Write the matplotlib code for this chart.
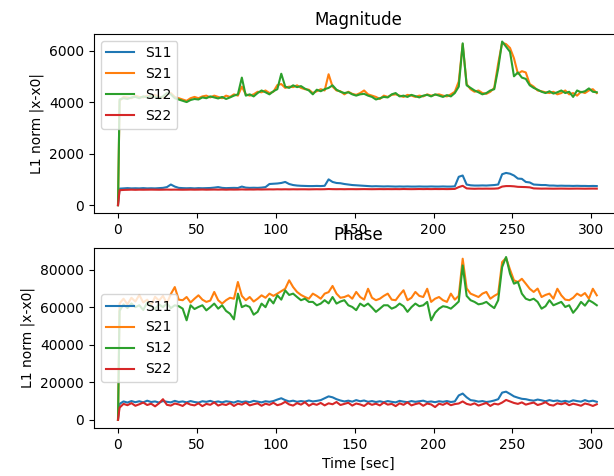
import matplotlib
matplotlib.use("Agg")
import matplotlib.pyplot as plt
import numpy as np

# sample times [sec]: first sample at 0, then every 2.5 s
time = np.r_[0.0, np.arange(1.0, 305.0, 2.5)]

labels = ["S11", "S21", "S12", "S22"]

# ---- Magnitude: L1 norm |x-x0| ----
mag_s11 = [0, 640, 650, 660, 650, 655, 650, 660, 650, 655,
           650, 660, 670, 700, 800, 720, 670, 660, 655, 660,
           650, 660, 655, 660, 665, 680, 700, 670, 660, 665,
           670, 665, 720, 680, 670, 675, 670, 680, 700, 820,
           830, 840, 860, 900, 820, 780, 760, 750, 745, 740,
           740, 745, 740, 750, 1000, 900, 860, 850, 820, 800,
           780, 770, 760, 750, 740, 730, 735, 730, 725, 730,
           725, 720, 725, 720, 725, 720, 720, 725, 720, 720,
           725, 720, 720, 725, 720, 720, 730, 1100, 1150, 800,
           770, 760, 760, 765, 760, 770, 780, 800, 1200, 1250,
           1220, 1150, 1030, 1020, 900, 880, 800, 790, 780, 780,
           760, 760, 750, 755, 750, 750, 745, 750, 745, 745,
           740, 745, 740]
mag_s21 = [0, 4050, 4200, 4180, 4150, 4250, 4200, 4180, 4250, 4200,
           4280, 4200, 4180, 4300, 4350, 4200, 4150, 4100, 4050, 4150,
           4200, 4150, 4220, 4250, 4180, 4250, 4200, 4150, 4250, 4200,
           4300, 4250, 4600, 4300, 4250, 4300, 4400, 4380, 4450, 4350,
           4400, 4660, 4700, 4550, 4600, 4580, 4650, 4550, 4500, 4480,
           4350, 4420, 4500, 4450, 5080, 4600, 4450, 4420, 4300, 4400,
           4320, 4280, 4350, 4450, 4300, 4250, 4200, 4120, 4250, 4200,
           4280, 4300, 4250, 4200, 4280, 4250, 4200, 4250, 4220, 4300,
           4250, 4280, 4300, 4250, 4220, 4300, 4400, 4800, 6250, 4700,
           4500, 4400, 4450, 4350, 4320, 4400, 4550, 5500, 6300, 6250,
           6100, 5700, 5100, 5200, 5150, 4700, 4600, 4450, 4420, 4380,
           4350, 4400, 4300, 4350, 4450, 4300, 4350, 4250, 4400, 4350,
           4450, 4500, 4350]
mag_s12 = [0, 4100, 4150, 4120, 4180, 4200, 4150, 4220, 4180, 4250,
           4200, 4150, 4220, 4350, 4300, 4150, 4100, 4050, 4000, 4080,
           4120, 4100, 4180, 4150, 4220, 4180, 4140, 4200, 4120, 4180,
           4250, 4300, 4950, 4250, 4300, 4220, 4350, 4450, 4380, 4300,
           4420, 4500, 5100, 4600, 4550, 4650, 4580, 4620, 4520, 4450,
           4300, 4480, 4420, 4500, 4550, 4650, 4480, 4400, 4350, 4380,
           4300, 4250, 4300, 4320, 4250, 4200, 4100, 4150, 4200, 4180,
           4300, 4350, 4220, 4250, 4200, 4280, 4230, 4180, 4250, 4280,
           4220, 4300, 4250, 4200, 4270, 4220, 4350, 4600, 6280, 4650,
           4550, 4450, 4380, 4300, 4350, 4450, 4500, 5300, 6350, 6150,
           5950, 5000, 5150, 4950, 4900, 4650, 4550, 4480, 4400, 4350,
           4420, 4330, 4380, 4450, 4350, 4400, 4200, 4450, 4380, 4420,
           4530, 4400, 4380]
mag_s22 = [0, 580, 590, 595, 600, 595, 600, 598, 600, 602,
           600, 598, 600, 603, 600, 602, 600, 598, 600, 603,
           600, 602, 605, 600, 603, 605, 602, 605, 600, 605,
           603, 605, 610, 605, 607, 605, 610, 607, 610, 612,
           610, 615, 612, 615, 612, 615, 613, 615, 615, 612,
           615, 617, 615, 618, 625, 620, 618, 620, 617, 620,
           620, 618, 620, 622, 620, 618, 620, 622, 620, 622,
           620, 622, 620, 625, 622, 620, 622, 625, 622, 625,
           622, 625, 623, 625, 622, 625, 630, 700, 750, 650,
           640, 635, 640, 638, 640, 638, 640, 650, 720, 740,
           740, 730, 710, 705, 700, 690, 650, 645, 640, 642,
           640, 638, 640, 642, 640, 638, 640, 642, 640, 638,
           640, 642, 640]

# ---- Phase: L1 norm |x-x0| ----
ph_s11 = [0, 8500, 9800, 9200, 10000, 9400, 9900, 9300, 10200, 9500,
          9800, 9200, 10000, 9600, 9300, 10100, 9500, 9800, 9300, 10000,
          9500, 9200, 9900, 9600, 10100, 9400, 9800, 9300, 9900, 9600,
          9200, 10000, 9500, 9800, 9400, 10100, 9700, 9300, 9900, 9600,
          10000, 10800, 11500, 10500, 9800, 10200, 9600, 10000, 9700, 10300,
          9800, 10100, 10500, 11500, 12500, 12000, 11000, 10300, 9800, 10200,
          9700, 10500, 9900, 10300, 9600, 10000, 9500, 9900, 9400, 10000,
          9600, 9300, 10100, 9700, 9400, 10000, 9600, 9900, 10200, 9500,
          9800, 9400, 9900, 9600, 10000, 9500, 9800, 13000, 14000, 12000,
          10500, 10200, 9700, 10000, 9500, 9800, 10300, 11000, 14500, 15000,
          13800, 12500, 11800, 11200, 11000, 10500, 10200, 10800, 10400, 9900,
          10500, 10000, 10300, 9700, 10100, 9600, 10400, 10000, 9700, 10500,
          9800, 10200, 9600]
ph_s21 = [0, 62000, 64500, 61500, 65000, 63000, 66500, 62500, 64000, 61000,
          65500, 63500, 66000, 62000, 67000, 70700, 64000, 63700, 65400, 62500,
          64500, 66300, 64000, 62800, 63500, 68100, 63700, 61900, 63700, 65000,
          64500, 73400, 66000, 63700, 65400, 63000, 64500, 66300, 65000, 67200,
          66000, 67200, 68500, 69800, 74300, 70700, 68100, 66500, 65400, 64500,
          67200, 66000, 64500, 67200, 68000, 71300, 67200, 65000, 65400, 66300,
          64500, 68100, 65400, 64000, 69800, 65000, 63700, 64500, 66000, 67200,
          64000, 63700, 66500, 69000, 63700, 65000, 68100, 66000, 65400, 69800,
          62800, 64500, 65400, 63700, 62800, 67200, 64000, 66000, 85800, 70000,
          67200, 66300, 65400, 67200, 68100, 64500, 66000, 67200, 84000, 86200,
          80000, 74300, 73400, 75100, 72500, 69800, 68100, 69900, 65400, 66500,
          67200, 64500, 69800, 66300, 64000, 63700, 65000, 67200, 66000, 67500,
          64500, 69800, 66300]
ph_s12 = [0, 58000, 61500, 59500, 62000, 60000, 61000, 58500, 62500, 60500,
          59000, 61500, 60000, 62000, 59500, 61000, 60500, 59200, 53000, 61000,
          59000, 60100, 61000, 58300, 60000, 61900, 59200, 61000, 58000, 56500,
          53500, 67200, 60000, 61000, 60100, 56000, 57500, 61900, 60000, 64500,
          62000, 66300, 64000, 68900, 66500, 67200, 65400, 63700, 64500, 62800,
          62800, 61000, 61900, 63700, 62000, 65400, 61900, 63000, 63700, 61000,
          60100, 58400, 61900, 60500, 61900, 59800, 57500, 59200, 61000, 61000,
          59200, 60100, 61900, 60500, 57500, 60000, 61900, 60500, 61000, 62800,
          53000, 57000, 59200, 60500, 60100, 59200, 61000, 63000, 82200, 66000,
          63700, 62800, 61500, 61900, 62800, 61000, 59500, 63700, 81350, 86700,
          77800, 72500, 73400, 67200, 64500, 63700, 64500, 62800, 59200, 60500,
          63700, 61000, 61900, 62800, 60100, 61000, 57000, 59500, 62800, 60800,
          63700, 62500, 61000]
ph_s22 = [0, 6500, 8500, 7800, 8900, 7500, 8300, 9200, 7900, 8600,
          7200, 8800, 11000, 8000, 7600, 8700, 8200, 7400, 9000, 8100,
          7700, 8800, 7300, 8500, 8000, 9300, 7600, 8400, 7900, 8900,
          7400, 8600, 8100, 9200, 7700, 8300, 8800, 7500, 8600, 8000,
          9100, 7800, 8400, 9600, 8200, 7600, 8900, 8100, 9400, 7500,
          8600, 8000, 9000, 7700, 8800, 8300, 9500, 7900, 8500, 9100,
          7600, 8700, 8200, 7400, 8900, 8000, 8600, 7700, 9200, 8100,
          8500, 7300, 8800, 8000, 9300, 7700, 8400, 8900, 7500, 8700,
          8200, 6800, 8600, 8000, 9000, 7800, 8400, 8700, 9800, 8500,
          8000, 8800, 7600, 8300, 9000, 7400, 8600, 8200, 9200, 10600,
          9800, 9000, 8500, 9300, 8100, 8700, 9200, 7900, 8500, 9400,
          8000, 7600, 8800, 8300, 9000, 7800, 8600, 8100, 7500, 8700,
          8200, 7400, 8300]

fig = plt.figure(figsize=(6.14, 4.76), dpi=100)
# axes run a bit past the right edge of the picture, like the reference crop
ax1 = fig.add_axes([0.153, 0.552, 0.862, 0.377])
ax2 = fig.add_axes([0.153, 0.101, 0.862, 0.378])

for ax, series, title, loc in [
        (ax1, [mag_s11, mag_s21, mag_s12, mag_s22], "Magnitude", "upper left"),
        (ax2, [ph_s11, ph_s21, ph_s12, ph_s22], "Phase", "center left")]:
    for vals, lab in zip(series, labels):
        ax.plot(time, vals, label=lab)
    ax.set_title(title)
    ax.set_ylabel("L1 norm |x-x0|")
    ax.set_xlim(-15.25, 320.25)
    ax.legend(loc=loc)

ax1.set_ylim(-315, 6650)
ax1.set_yticks([0, 2000, 4000, 6000])
ax2.set_ylim(-4300, 91500)
ax2.set_yticks([0, 20000, 40000, 60000, 80000])
ax2.set_xlabel("Time [sec]")

fig.savefig("out.png", dpi=100)
